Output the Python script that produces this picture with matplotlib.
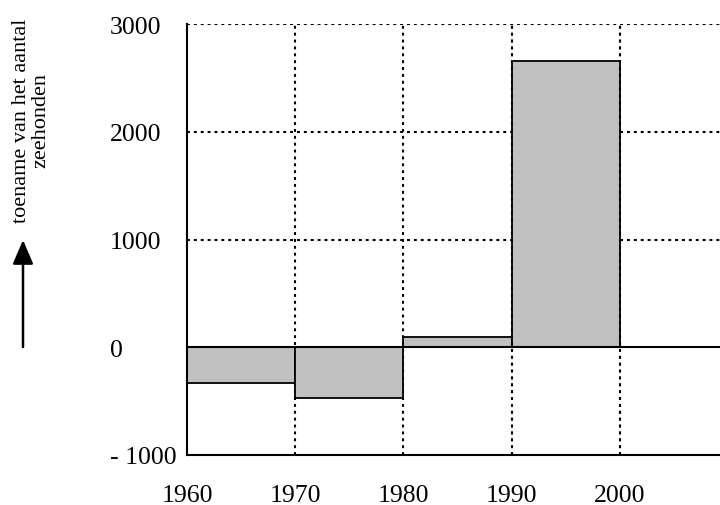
import matplotlib
matplotlib.use("Agg")
import matplotlib.pyplot as plt
import numpy as np

plt.rcParams['font.family'] = ['Liberation Serif', 'DejaVu Serif']

# Data
decade_starts = [1960, 1970, 1980, 1990]
increase = [-333, -472, 99, 2660]
bar_width = 10
x_ticks = [1960, 1970, 1980, 1990, 2000]
x_tick_labels = ["1960", "1970", "1980", "1990", "2000"]
y_ticks = [-1000, 0, 1000, 2000, 3000]
y_tick_labels = ["- 1000", "0", "1000", "2000", "3000"]
y_label = "toename van het aantal\nzeehonden"

W, H = 720, 506
fig = plt.figure(figsize=(W / 100, H / 100), dpi=100)
ax = fig.add_axes([187 / W, 1 - 456 / H, 1 - 187 / W, (456 - 25) / H])

ax.set_xlim(1960, 1960 + (720 - 187) / 10.825)
ax.set_ylim(-1000, 3000)

dot = dict(color='black', linewidth=1.5, linestyle=(0, (1.4, 1.9)), zorder=1)
for yv in [1000, 2000, 3000]:
    ax.axhline(yv, **dot)
for xv in [1970, 1980, 1990, 2000]:
    ax.axvline(xv, **dot)

ax.bar(decade_starts, increase, width=bar_width, align='edge',
       color='#c0c0c0', edgecolor='black', linewidth=1.3, zorder=2)
for xv in [1990, 2000]:
    ax.axvline(xv, ymin=0, ymax=1, **{**dot, 'zorder': 3, 'alpha': 0.6})

ax.axhline(0, color='black', linewidth=1.5, zorder=4)

for s in ['top', 'right']:
    ax.spines[s].set_visible(False)
for s in ['left', 'bottom']:
    ax.spines[s].set_linewidth(1.5)
    ax.spines[s].set_zorder(5)

ax.set_xticks(x_ticks)
ax.set_xticklabels(x_tick_labels, fontsize=18.5)
ax.set_yticks(y_ticks)
ax.set_yticklabels(y_tick_labels, fontsize=18.5)
ax.tick_params(axis='both', length=0)
ax.tick_params(axis='x', pad=21)
ax.tick_params(axis='y', pad=(187 - 110) * 0.72)
for lab in ax.get_yticklabels():
    lab.set_horizontalalignment('left')

fig.text(31 / W, 1 - 121 / H, y_label, rotation=90, ha='center', va='center',
         fontsize=16, linespacing=1.0, multialignment='center')

fig.add_artist(matplotlib.patches.FancyArrowPatch(
    (23 / W, 1 - 348 / H), (23 / W, 1 - 241 / H), transform=fig.transFigure,
    arrowstyle='-|>,head_length=1.05,head_width=0.45', mutation_scale=14,
    color='black', linewidth=1.8, shrinkA=0, shrinkB=0))

fig.savefig('out.png', dpi=100)
